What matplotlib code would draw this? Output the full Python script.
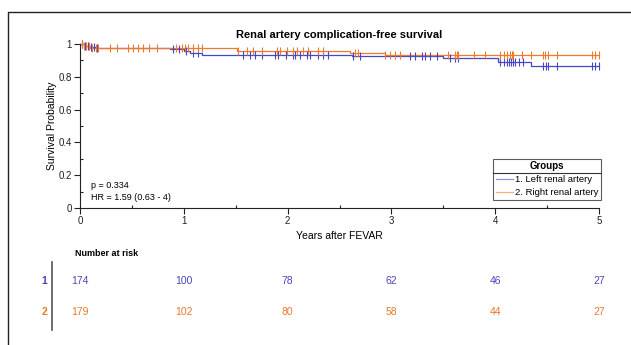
import numpy as np
import matplotlib
matplotlib.use("Agg")
import matplotlib.pyplot as plt
from matplotlib.lines import Line2D
import matplotlib.transforms as mtransforms

plt.rcParams['font.family'] = ['Liberation Sans', 'DejaVu Sans']

# Kaplan-Meier step points (time in years, survival probability)
left_times = [0, 0.04, 0.10, 0.15, 0.87, 1.00, 1.06, 1.18, 2.62, 3.50, 4.03, 4.34, 5.0]
left_surv = [1.0, 0.99, 0.982, 0.976, 0.968, 0.958, 0.948, 0.933, 0.925, 0.912, 0.89, 0.866, 0.866]
right_times = [0, 0.04, 0.10, 1.51, 2.60, 2.94, 5.0]
right_surv = [1.0, 0.99, 0.977, 0.96, 0.945, 0.932, 0.932]

# censoring times
left_cens = [0.02, 0.05, 0.08, 0.11, 0.13, 0.16, 0.9, 0.95, 1.02, 1.09, 1.14,
             1.57, 1.64, 1.69, 1.75, 1.88, 1.91, 1.98, 2.05, 2.07, 2.12, 2.19,
             2.22, 2.29, 2.34, 2.39, 2.63, 2.70, 3.18, 3.23, 3.29, 3.32, 3.37,
             3.44, 3.56, 3.61, 3.64, 4.05, 4.08, 4.11, 4.13, 4.15, 4.17, 4.19,
             4.23, 4.27, 4.46, 4.49, 4.51, 4.6, 4.93, 4.96, 5.0]
right_cens = [0.02, 0.04, 0.06, 0.09, 0.12, 0.15, 0.17, 0.29, 0.36, 0.46, 0.51,
              0.56, 0.61, 0.66, 0.74, 0.92, 0.98, 1.01, 1.04, 1.09, 1.14, 1.18,
              1.52, 1.61, 1.67, 1.75, 1.9, 1.93, 1.99, 2.05, 2.09, 2.15, 2.2,
              2.29, 2.34, 2.65, 2.68, 2.94, 2.99, 3.03, 3.08, 3.55, 3.61, 3.63,
              3.64, 3.8, 3.9, 4.05, 4.08, 4.11, 4.14, 4.16, 4.17, 4.26, 4.34,
              4.46, 4.48, 4.51, 4.6, 4.93, 4.96, 5.0]

group_labels = ['1. Left renal artery', '2. Right renal artery']
risk_times = [0, 1, 2, 3, 4, 5]
risk_left = [174, 100, 78, 62, 46, 27]
risk_right = [179, 102, 80, 58, 44, 27]

blue = '#4646c8'
orange = '#f07a2c'
blue_txt = '#4848bc'
orange_txt = '#e8782a'


def surv_at(times, surv, t):
    idx = np.searchsorted(times, t, side='right') - 1
    return np.asarray(surv)[idx]


fig = plt.figure(figsize=(6.31, 3.45), dpi=100)
ax = fig.add_axes([0.1268, 0.397, 0.8225, 0.4755])

ax.step(left_times, left_surv, where='post', color=blue, lw=0.9, clip_on=False)
ax.step(right_times, right_surv, where='post', color=orange, lw=0.9, clip_on=False)
ax.plot(left_cens, surv_at(left_times, left_surv, left_cens), ls='none',
        marker='|', ms=6, mew=0.8, color=blue, clip_on=False)
ax.plot(right_cens, surv_at(right_times, right_surv, right_cens), ls='none',
        marker='|', ms=6, mew=0.8, color=orange, clip_on=False)

ax.set_xlim(0, 5)
ax.set_ylim(0, 1)
ax.spines['top'].set_visible(False)
ax.spines['right'].set_visible(False)
for s in ['left', 'bottom']:
    ax.spines[s].set_color('#222222')
    ax.spines[s].set_linewidth(0.8)
ax.set_xticks(risk_times)
ax.set_xticks(np.arange(0.5, 5, 1), minor=True)
ax.set_yticks(np.arange(0, 1.01, 0.2))
ax.set_yticks(np.arange(0.1, 1, 0.2), minor=True)
ax.set_yticklabels(['0', '0.2', '0.4', '0.6', '0.8', '1'])
ax.tick_params(which='major', length=4, width=0.8, labelsize=7,
               colors='#222222', pad=2)
ax.tick_params(which='minor', length=2, width=0.8, direction='in', colors='#222222')

ax.set_title('Renal artery complication-free survival', fontsize=8,
             fontweight='bold', pad=4)
ax.set_xlabel('Years after FEVAR', fontsize=7.5, labelpad=3)
ax.set_ylabel('Survival Probability', fontsize=7.5)
ax.yaxis.set_label_coords(-0.045, 0.5)

ax.text(0.021, 0.14, 'p = 0.334', transform=ax.transAxes, fontsize=6.5, va='center')
ax.text(0.021, 0.067, 'HR = 1.59 (0.63 - 4)', transform=ax.transAxes,
        fontsize=6.5, va='center')

handles = [Line2D([], [], color=blue, lw=0.9, alpha=0.6),
           Line2D([], [], color=orange, lw=0.9, alpha=0.6)]
leg = ax.legend(handles, group_labels, title='Groups', loc='lower right',
                bbox_to_anchor=(1.004, 0.05), fontsize=6.8, title_fontsize=7,
                fancybox=False, edgecolor='#333333', handlelength=1.8,
                handletextpad=0.3, borderpad=0.25, labelspacing=0.45,
                borderaxespad=0)
leg.get_title().set_fontweight('bold')
leg.get_frame().set_linewidth(0.8)

# separator line under legend title
fig.canvas.draw()
renderer = fig.canvas.get_renderer()
lb = leg.get_frame().get_window_extent(renderer)
tb = leg.get_title().get_window_extent(renderer)
first = leg.get_texts()[0].get_window_extent(renderer)
ysep = (tb.y0 + first.y1) / 2
fig.add_artist(Line2D([lb.x0, lb.x1], [ysep, ysep], transform=None,
                      color='#333333', lw=0.8))

# number at risk table
trans = mtransforms.blended_transform_factory(ax.transData, fig.transFigure)
fig.text(0.119, 0.264, 'Number at risk', fontsize=6.5, fontweight='bold', va='center')
for t, n1, n2 in zip(risk_times, risk_left, risk_right):
    ax.text(t, 0.186, str(n1), transform=trans, fontsize=7.5, color=blue_txt,
            ha='center', va='center', clip_on=False)
    ax.text(t, 0.096, str(n2), transform=trans, fontsize=7.5, color=orange_txt,
            ha='center', va='center', clip_on=False)
fig.text(0.07, 0.186, '1', fontsize=7.5, fontweight='bold', color=blue_txt,
         ha='center', va='center')
fig.text(0.07, 0.096, '2', fontsize=7.5, fontweight='bold', color=orange_txt,
         ha='center', va='center')
fig.add_artist(Line2D([0.083, 0.083], [0.043, 0.241], transform=fig.transFigure,
                      color='#555555', lw=1.2))

# outer frame (top and left)
fig.add_artist(Line2D([0.0127, 0.0127, 1.0], [0.0, 0.965, 0.965],
                      transform=fig.transFigure, color='#222222', lw=1.0))

fig.savefig('out.png', dpi=100)
